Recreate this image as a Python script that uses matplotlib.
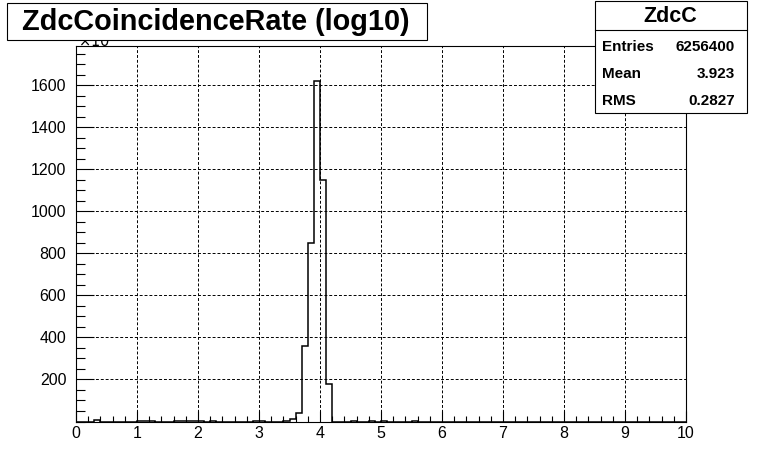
import matplotlib
matplotlib.use("Agg")
import matplotlib.pyplot as plt
from matplotlib.patches import Rectangle
from matplotlib.ticker import MultipleLocator
import numpy as np

plt.rcParams['font.family'] = ['Liberation Sans', 'DejaVu Sans']

# histogram: 100 bins of log10(rate) from 0 to 10, contents in units of 10^3
bin_edges = np.linspace(0, 10, 101)
counts = np.zeros(100)
# non-empty bins (bin index -> content / 1000)
bin_index = [3, 10, 11, 12, 16, 17, 18, 19, 20, 22, 29, 30, 34, 35,
             36, 37, 38, 39, 40, 41, 45, 48, 50, 55]
bin_value = [5, 3, 3, 3, 2, 2, 2, 2, 2, 3, 2, 4, 3, 12,
             42, 361, 849, 1619, 1147, 179, 3, 3, 3, 3]
counts[bin_index] = bin_value

title = "ZdcCoincidenceRate (log10)"
stats_name = "ZdcC"
stats_rows = [("Entries", "6256400"), ("Mean", "3.923"), ("RMS", "0.2827")]

W, H = 763, 469
fig = plt.figure(figsize=(W / 100, H / 100), dpi=100)
ax = fig.add_axes([76 / W, 1 - 421.5 / H, 610 / W, 375.5 / H])

ax.stairs(counts, bin_edges, color='black', linewidth=1.1)

ax.set_xlim(0, 10)
ax.set_ylim(0, 1786)
ax.xaxis.set_major_locator(MultipleLocator(1))
ax.xaxis.set_minor_locator(MultipleLocator(0.2))
ax.yaxis.set_major_locator(MultipleLocator(200))
ax.yaxis.set_minor_locator(MultipleLocator(50))
ax.set_yticks(np.arange(200, 1601, 200))

ax.tick_params(axis='x', which='major', direction='in', length=8, width=0.8,
               labelsize=11.5, pad=3)
ax.tick_params(axis='x', which='minor', direction='in', length=4, width=0.8)
ax.tick_params(axis='y', which='major', direction='in', length=13, width=0.8,
               labelsize=11.5, pad=7)
ax.tick_params(axis='y', which='minor', direction='in', length=6.5, width=0.8)

ax.grid(True, which='major', color='black', linestyle=(0, (3, 2)), linewidth=0.7)
for s in ax.spines.values():
    s.set_linewidth(0.8)

# exponent label, partly hidden under the title box
ax.text(0.003, 0.99, r"$\times10^{3}$", transform=ax.transAxes,
        ha='left', va='bottom', fontsize=10.5, clip_on=False)

# title box
fig.patches.append(Rectangle((7 / W, 1 - 40 / H), 420 / W, 37 / H,
                             transform=fig.transFigure, facecolor='white',
                             edgecolor='black', linewidth=0.8, zorder=5))
fig.text(216 / W, 1 - 22 / H, title, ha='center', va='center', fontsize=20.8,
         fontweight='bold', zorder=6)

# stats box
fig.patches.append(Rectangle((595 / W, 1 - 113 / H), 152 / W, 112 / H,
                             transform=fig.transFigure, facecolor='white',
                             edgecolor='black', linewidth=0.8, zorder=5))
fig.lines.append(plt.Line2D([595 / W, 747 / W], [1 - 30 / H, 1 - 30 / H],
                            transform=fig.transFigure, color='black',
                            linewidth=0.8, zorder=6))
fig.text(670 / W, 1 - 16 / H, stats_name, ha='center', va='center',
         fontsize=15.5, fontweight='bold', zorder=6)
for i, (name, val) in enumerate(stats_rows):
    y = 1 - (47 + 27 * i) / H
    fig.text(602 / W, y, name, ha='left', va='center', fontsize=11,
             fontweight='bold', zorder=6)
    fig.text(735 / W, y, val, ha='right', va='center', fontsize=11,
             fontweight='bold', zorder=6)

fig.savefig("out.png", dpi=100)
